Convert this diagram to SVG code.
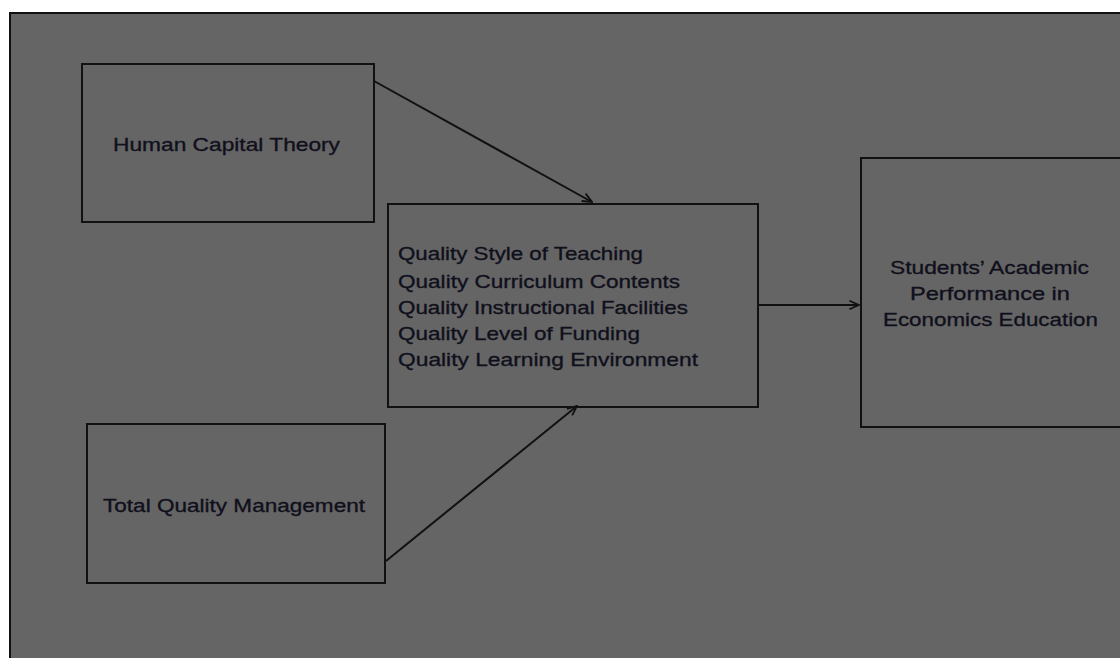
<svg xmlns="http://www.w3.org/2000/svg" width="1120" height="658" viewBox="0 0 1120 658">
<defs>
<style>
.box{fill:none;stroke:#111;stroke-width:2}
.t{font-family:"Liberation Sans",Arial,sans-serif;font-size:19px;fill:#10101c;stroke:#10101c;stroke-width:0.35}
.c{stroke:#111;stroke-width:2;fill:none}
</style>
<marker id="ah" viewBox="0 0 10 10" refX="9" refY="5" markerWidth="12" markerHeight="12" orient="auto" markerUnits="userSpaceOnUse">
<path d="M1,1.5 L9,5 L1,8.5" fill="none" stroke="#111" stroke-width="1.5"/>
</marker>
</defs>
<rect x="0" y="0" width="1120" height="658" fill="#fff"/>
<rect x="10" y="13" width="1112" height="648" fill="#656565" stroke="#111" stroke-width="2"/>
<g id="connectors">
<line class="c" x1="374" y1="81" x2="592" y2="202" marker-end="url(#ah)"/>
<line class="c" x1="386" y1="561" x2="577" y2="406" marker-end="url(#ah)"/>
<line class="c" x1="758" y1="305" x2="859" y2="305" marker-end="url(#ah)"/>
</g>
<g id="human-capital">
<rect class="box" x="82" y="64" width="292" height="158"/>
<text class="t" x="113" y="151" textLength="227" lengthAdjust="spacingAndGlyphs">Human Capital Theory</text>
</g>
<g id="quality">
<rect class="box" x="388" y="204" width="370" height="203"/>
<text class="t" x="398" y="260" textLength="245" lengthAdjust="spacingAndGlyphs">Quality Style of Teaching</text>
<text class="t" x="398" y="288" textLength="282" lengthAdjust="spacingAndGlyphs">Quality Curriculum  Contents</text>
<text class="t" x="398" y="314" textLength="290" lengthAdjust="spacingAndGlyphs">Quality Instructional  Facilities</text>
<text class="t" x="398" y="340" textLength="242" lengthAdjust="spacingAndGlyphs">Quality Level of Funding</text>
<text class="t" x="398" y="366" textLength="300" lengthAdjust="spacingAndGlyphs">Quality Learning  Environment</text>
</g>
<g id="tqm">
<rect class="box" x="87" y="424" width="298" height="159"/>
<text class="t" x="103" y="512" textLength="262" lengthAdjust="spacingAndGlyphs">Total  Quality Management</text>
</g>
<g id="performance">
<rect class="box" x="861" y="158" width="270" height="269"/>
<text class="t" x="890" y="274" textLength="199" lengthAdjust="spacingAndGlyphs">Students’ Academic</text>
<text class="t" x="910" y="300" textLength="160" lengthAdjust="spacingAndGlyphs">Performance   in</text>
<text class="t" x="883" y="326" textLength="215" lengthAdjust="spacingAndGlyphs">Economics Education</text>
</g>
</svg>
